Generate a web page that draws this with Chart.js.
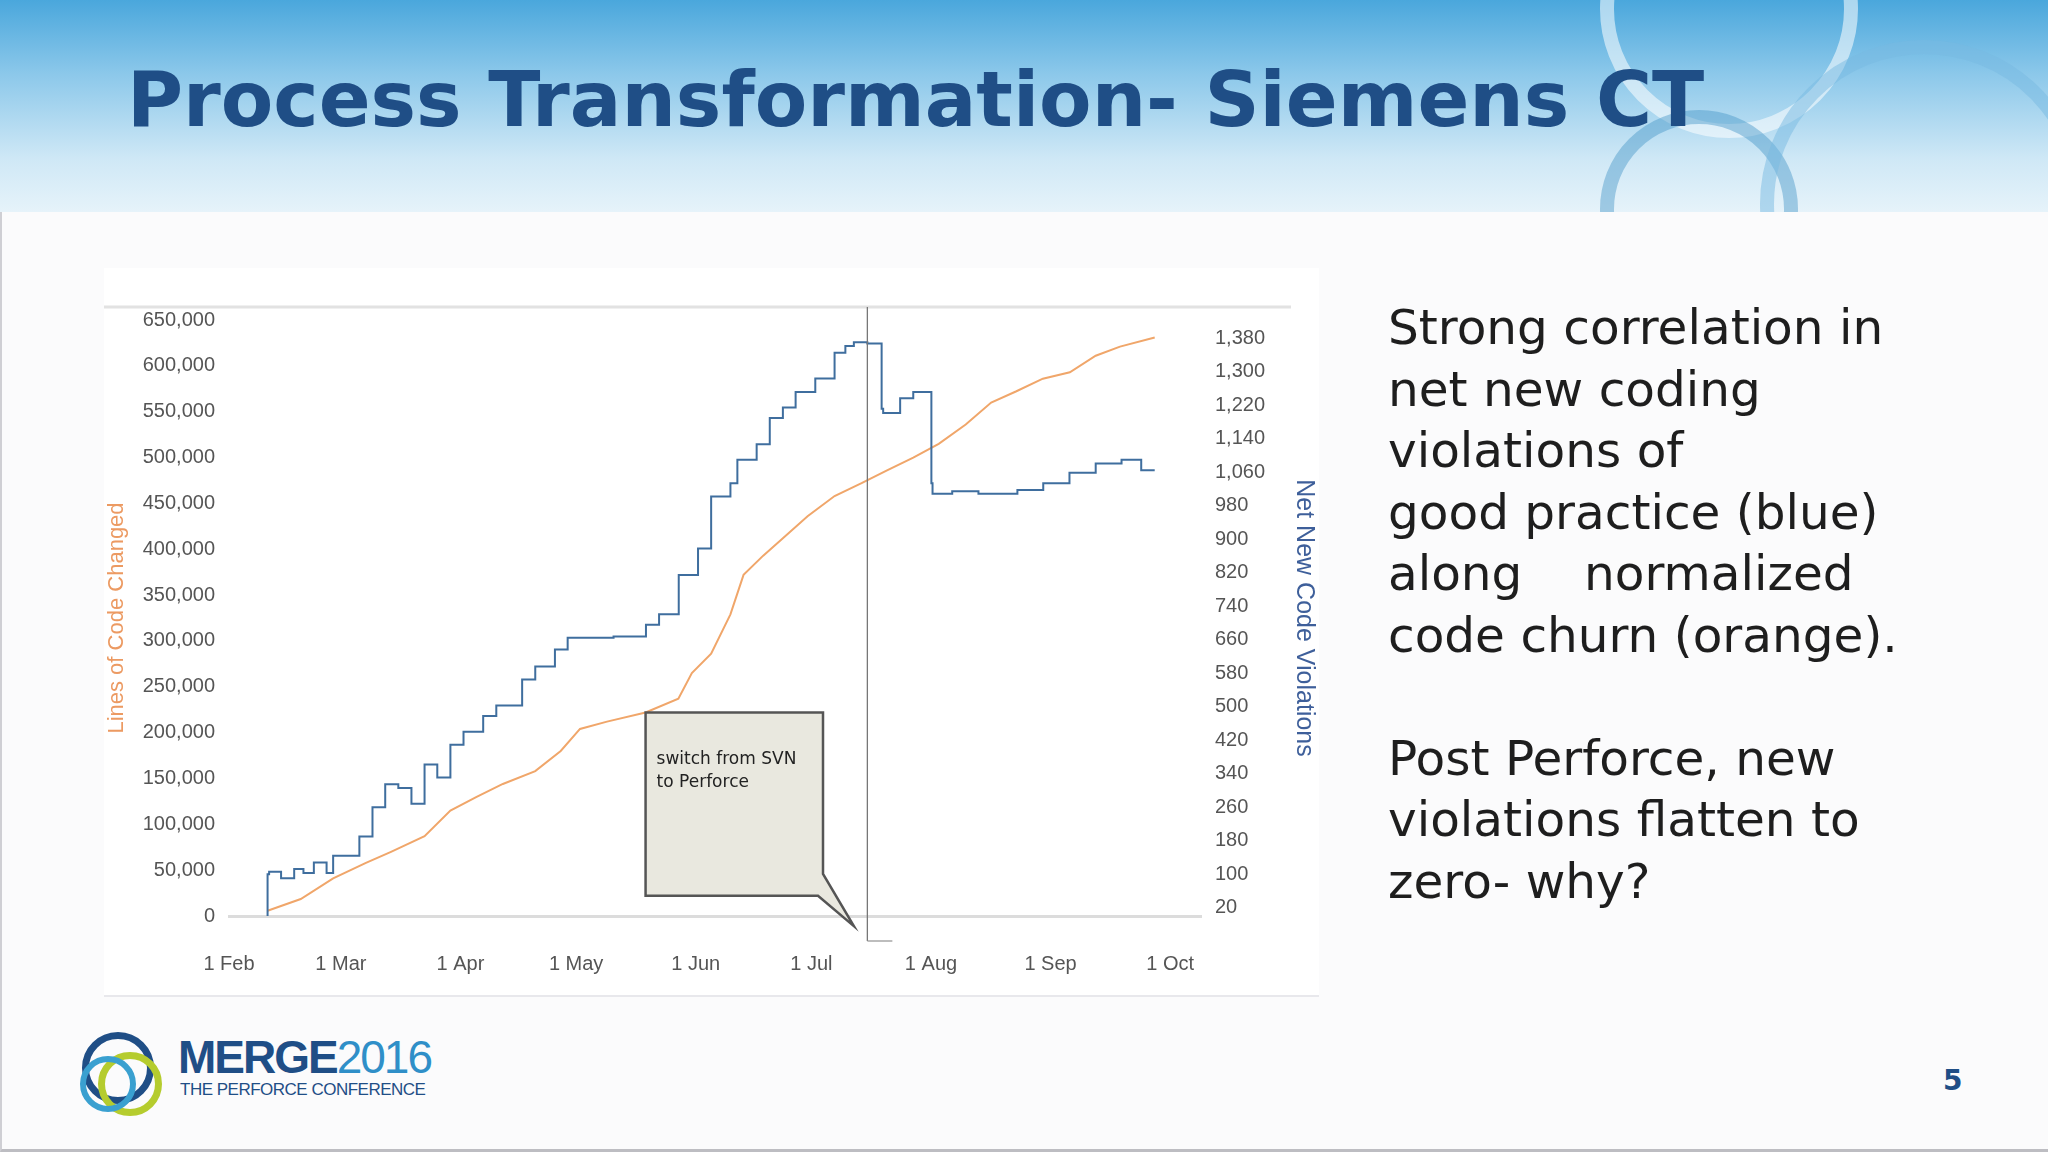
<!DOCTYPE html>
<html>
<head>
<meta charset="utf-8">
<script src="https://cdn.jsdelivr.net/npm/chart.js@4"></script>
<style>
  body { margin: 0; width: 2048px; height: 1152px; overflow: hidden; background: #fbfbfc; font-family: "DejaVu Sans", sans-serif; position: relative; }
  #header { position: absolute; left: 0; top: 0; width: 2048px; height: 212px; overflow: hidden;
    background: linear-gradient(180deg, #4aa7dc 0%, #8cc8ea 35%, #cfe8f6 75%, #e6f3fa 100%); }
  .ring { position: absolute; border-radius: 50%; border: 14px solid rgba(255,255,255,0.55); }
  .ring.b { border-color: rgba(70,150,200,0.45); }
  #title { position: absolute; left: 127px; top: 55px; font-size: 76.5px; font-weight: bold; color: #1f4e86; white-space: nowrap; }
  #panel { position: absolute; left: 104px; top: 268px; width: 1215px; height: 727px; background: #fff; border-bottom: 2px solid #e8e8ec; }
  #chartbox { position: absolute; left: 104px; top: 290px; width: 1215px; height: 705px; }
  #side { position: absolute; left: 1388px; top: 297px; font-size: 48.5px; line-height: 61.5px; color: #1e1e1e; white-space: pre; }
  #logo { position: absolute; left: 82px; top: 1030px; }
  #pg { position: absolute; left: 1943px; top: 1064px; font-size: 28px; font-weight: bold; color: #1f4e86; }
  #frame { position: absolute; left: 0; top: 212px; width: 2046px; height: 937px; border-left: 2px solid #cfcfd4; border-bottom: 3px solid #bdbdc2; }
</style>
</head>
<body>
<div id="header">
  <div class="ring" style="left:1600px;top:-120px;width:230px;height:230px;"></div>
  <div class="ring b" style="left:1600px;top:110px;width:170px;height:170px;"></div>
  <div class="ring" style="left:1760px;top:40px;width:300px;height:300px;border-color:rgba(120,185,225,0.5)"></div>
  <div id="title">Process Transformation- Siemens CT</div>
</div>
<div id="frame"></div>
<div id="panel"></div>
<div id="chartbox"><canvas id="c"></canvas></div>
<div id="side">Strong correlation in
net new coding
violations of
good practice (blue)
along    normalized
code churn (orange).

Post Perforce, new
violations flatten to
zero- why?</div>
<div id="logo">
  <div style="position:absolute;left:0;top:2px;width:58px;height:58px;border-radius:50%;border:7px solid #1f4e86;"></div>
  <div style="position:absolute;left:16px;top:22px;width:50px;height:50px;border-radius:50%;border:7px solid #b5cc2e;"></div>
  <div style="position:absolute;left:-2px;top:26px;width:44px;height:44px;border-radius:50%;border:6px solid #3aa0d0;"></div>
  <div style="position:absolute;left:96px;top:0;font-size:46px;font-weight:bold;color:#1f4e86;letter-spacing:-2px;font-family:'Liberation Sans',sans-serif;">MERGE<span style="font-weight:normal;color:#2f8fc8">2016</span></div>
  <div style="position:absolute;left:98px;top:50px;font-size:17px;color:#1f4e86;font-family:'Liberation Sans',sans-serif;white-space:nowrap;letter-spacing:-0.5px;">THE PERFORCE CONFERENCE</div>
</div>
<div id="pg">5</div>
<script>
// x = days since 1 Feb 2016
const monthDays = [0, 29, 60, 90, 121, 151, 182, 213, 244];
const monthLabels = ["1 Feb", "1 Mar", "1 Apr", "1 May", "1 Jun", "1 Jul", "1 Aug", "1 Sep", "1 Oct"];
const leftTicks = [0, 50000, 100000, 150000, 200000, 250000, 300000, 350000, 400000, 450000, 500000, 550000, 600000, 650000];
const rightTicks = [20, 100, 180, 260, 340, 420, 500, 580, 660, 740, 820, 900, 980, 1060, 1140, 1220, 1300, 1380];

// lines of code changed (orange, left axis)
const churnDays = [10, 18.6, 27, 35.5, 42, 50.7, 57.4, 64.2, 71, 79.4, 86, 91, 98, 108, 116.5, 120, 125, 130, 133.4, 138.5, 143.6, 150, 157, 164, 170.6, 177.4, 184, 191, 197.6, 204, 211, 218, 224.7, 231, 240];
const churnVals = [5700, 18500, 41000, 58000, 70000, 87000, 115000, 130000, 144000, 158000, 180000, 204000, 212000, 222000, 237000, 265000, 286000, 329000, 372000, 393000, 412000, 436000, 458000, 472000, 486000, 500000, 515000, 536000, 560000, 572000, 586000, 593000, 611000, 621000, 631000];

// net new code violations (blue, right axis)
const violDays = [10, 10.4, 13.5, 16.9, 19.3, 22, 25.3, 27, 28.7, 33.8, 37.2, 40.5, 43.9, 47.3, 50.7, 54, 57.4, 60.8, 65.9, 69.3, 76, 79.4, 84.5, 87.8, 94.6, 99.7, 108.1, 111.5, 116.6, 121.6, 125, 130, 131.8, 136.8, 140.2, 143.6, 146.9, 152, 157, 159.8, 162, 165.5, 169.2, 169.6, 174, 177.4, 182.1, 182.4, 187.5, 194.3, 197.6, 204.4, 211.1, 217.9, 224.7, 231.4, 236.5, 240];
const violVals = [0, 100, 106, 90, 112, 103, 128, 103, 144, 144, 190, 260, 315, 306, 268, 362, 331, 409, 440, 478, 503, 565, 596, 637, 665, 665, 668, 696, 721, 815, 878, 1002, 1034, 1090, 1127, 1190, 1215, 1252, 1284, 1346, 1362, 1371, 1368, 1212, 1202, 1237, 1252, 1034, 1009, 1015, 1009, 1009, 1018, 1034, 1059, 1081, 1090, 1065];

const switchDay = 165.5;

const pts = (xs, ys) => xs.map((x, i) => ({ x: x, y: ys[i] }));

const annot = {
  id: "annot",
  afterDatasetsDraw(chart) {
    const ctx = chart.ctx, xs = chart.scales.x, yl = chart.scales.yL, area = chart.chartArea;
    const vx = xs.getPixelForValue(switchDay);
    ctx.save();
    // top border line
    ctx.strokeStyle = "#e2e2e2"; ctx.lineWidth = 3;
    ctx.beginPath(); ctx.moveTo(0, area.top - 13); ctx.lineTo(area.right + 90, area.top - 13); ctx.stroke();
    // switch marker
    ctx.strokeStyle = "#777"; ctx.lineWidth = 1.3;
    ctx.beginPath(); ctx.moveTo(vx, area.top - 13); ctx.lineTo(vx, area.bottom + 25); ctx.stroke();
    ctx.strokeStyle = "#999";
    ctx.beginPath(); ctx.moveTo(vx, area.bottom + 25); ctx.lineTo(vx + 25, area.bottom + 25); ctx.stroke();
    // callout box
    const bx = xs.getPixelForValue(108), bw = xs.getPixelForValue(154) - bx;
    const by = yl.getPixelForValue(222000), bh = yl.getPixelForValue(22000) - by;
    const tipX = xs.getPixelForValue(162), tipY = yl.getPixelForValue(-11000);
    ctx.fillStyle = "#e9e8df"; ctx.strokeStyle = "#555"; ctx.lineWidth = 2.5;
    ctx.beginPath();
    ctx.moveTo(bx, by); ctx.lineTo(bx + bw, by); ctx.lineTo(bx + bw, by + bh - 22);
    ctx.lineTo(tipX, tipY); ctx.lineTo(bx + bw - 5, by + bh);
    ctx.lineTo(bx, by + bh); ctx.closePath(); ctx.fill(); ctx.stroke();
    ctx.fillStyle = "#222"; ctx.font = "17px 'DejaVu Sans'";
    ctx.fillText("switch from SVN", bx + 11, by + 52);
    ctx.fillText("to Perforce", bx + 11, by + 75);
    ctx.restore();
  }
};

new Chart(document.getElementById("c"), {
  type: "line",
  data: {
    datasets: [
      { data: pts(violDays, violVals), yAxisID: "yR", borderColor: "#3f6e9e", borderWidth: 2, pointRadius: 0, stepped: "after" },
      { data: pts(churnDays, churnVals), yAxisID: "yL", borderColor: "#f0a66a", borderWidth: 2, pointRadius: 0, tension: 0 }
    ]
  },
  options: {
    responsive: true, maintainAspectRatio: false, animation: false,
    layout: { padding: { top: 30, right: 0, left: 0, bottom: 0 } },
    plugins: { legend: { display: false }, tooltip: { enabled: false } },
    scales: {
      x: {
        type: "linear", min: 0, max: 252,
        afterBuildTicks: s => { s.ticks = monthDays.map(v => ({ value: v })); },
        afterFit: s => { s.height = 79; },
        ticks: { callback: (v) => monthLabels[monthDays.indexOf(v)], color: "#555", font: { size: 20, family: "Liberation Sans" }, padding: 28, maxRotation: 0, autoSkip: false },
        grid: { display: false }, border: { display: true, color: "#dcdcdc", width: 3 }
      },
      yL: {
        position: "left", min: 0, max: 650000,
        afterBuildTicks: s => { s.ticks = leftTicks.map(v => ({ value: v })); },
        afterFit: s => { s.width = 125; },
        ticks: { callback: v => v.toLocaleString("en-US"), color: "#555", font: { size: 20, family: "Liberation Sans" }, padding: 6 },
        title: { display: true, text: "Lines of Code Changed", color: "#ec9a62", font: { size: 22, family: "Liberation Sans" }, padding: 0 },
        grid: { display: false }, border: { display: false }
      },
      yR: {
        position: "right", min: 0, max: 1424,
        afterBuildTicks: s => { s.ticks = rightTicks.map(v => ({ value: v })); },
        afterFit: s => { s.width = 118; },
        ticks: { callback: v => v.toLocaleString("en-US"), color: "#555", font: { size: 20, family: "Liberation Sans" }, padding: 6 },
        title: { display: true, text: "Net New Code Violations", color: "#3e5f9a", font: { size: 25, family: "Liberation Sans" }, padding: 0 },
        grid: { display: false }, border: { display: false }
      }
    }
  },
  plugins: [annot]
});
</script>
</body>
</html>
